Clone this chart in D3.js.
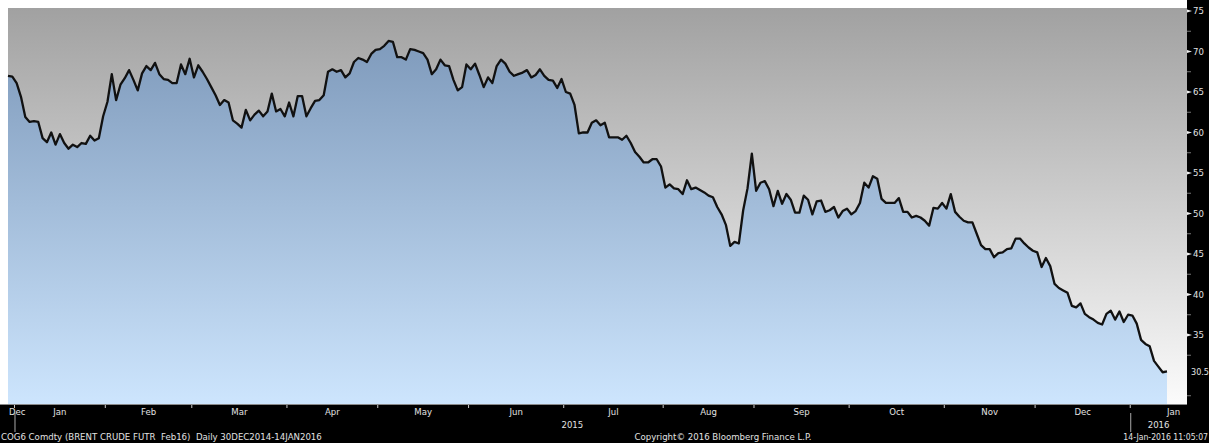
<!DOCTYPE html>
<html>
  <head>
  <title>Brent Feb16</title>
  </head>
  <body>
  <style>
    body, html {
      margin: 0;
      padding: 0;
      background: #fff;
    }
    #svg text {
      font-family: "DejaVu Sans Condensed", "DejaVu Sans", sans-serif;
      fill: #e2e2e2;
    }
    #svg text.footer {
      font-family: "DejaVu Sans", sans-serif;
      white-space: pre;
    }
  </style>

  <svg id="svg" width="1209" height="443"></svg>

  <script src="https://cdn.jsdelivr.net/npm/d3@7"></script>
  <script>
    // COG6 Comdty daily closes, 30 Dec 2014 .. 14 Jan 2016
    const startDate = '2014-12-30'
    const endDate = '2016-01-14'
    const holidays = ['2015-01-01', '2015-04-03', '2015-12-25', '2016-01-01']
    const prices = [
      67.0, 66.9, 66.1, 64.4, 61.9, 61.3, 61.4, 61.3, 59.3, 58.8,
      60.0, 58.5, 59.8, 58.7, 58.0, 58.5, 58.2, 58.7, 58.6, 59.6,
      59.0, 59.3, 62.0, 63.8, 67.2, 64.0, 65.9, 66.7, 67.7, 66.5,
      65.2, 67.3, 68.2, 67.7, 68.6, 67.2, 66.6, 66.5, 66.1, 66.1,
      68.4, 67.2, 69.1, 66.8, 68.3, 67.5, 66.6, 65.6, 64.6, 63.4,
      64.0, 63.7, 61.5, 61.1, 60.6, 62.8, 61.5, 62.2, 62.7, 62.0,
      62.6, 64.8, 62.6, 62.9, 62.0, 63.7, 62.0, 64.5, 64.5, 62.0,
      63.0, 63.9, 64.0, 64.6, 67.5, 67.8, 67.5, 67.7, 66.8, 67.3,
      68.7, 69.2, 69.0, 68.7, 69.7, 70.2, 70.3, 70.7, 71.3, 71.2,
      69.3, 69.3, 69.0, 70.3, 70.2, 70.0, 69.8, 69.0, 67.2, 67.8,
      69.0, 68.3, 68.2, 66.5, 65.2, 65.6, 68.4, 67.8, 68.5, 67.1,
      65.6, 66.8, 66.1, 68.2, 69.0, 68.5, 67.5, 67.0, 67.2, 67.4,
      67.7, 66.8, 67.1, 67.8, 67.0, 66.5, 66.4, 65.5, 66.6, 65.0,
      64.8, 63.4, 59.9, 60.0, 60.0, 61.2, 61.5, 60.9, 61.2, 59.4,
      59.4, 59.4, 59.1, 59.6, 58.7, 57.6, 57.0, 56.3, 56.3, 56.7,
      56.7, 55.8, 53.2, 53.6, 53.1, 53.0, 52.4, 54.1, 53.0, 53.2,
      52.9, 52.6, 52.2, 52.0, 50.8, 49.9, 48.6, 46.0, 46.5, 46.3,
      50.4, 53.1, 57.4, 52.8, 53.8, 54.0, 53.0, 50.9, 52.8, 51.2,
      52.4, 51.7, 50.1, 50.1, 52.2, 51.7, 49.9, 51.5, 51.6, 50.2,
      50.4, 50.8, 49.5, 50.3, 50.6, 49.9, 50.3, 51.3, 53.8, 53.2,
      54.6, 54.3, 51.8, 51.3, 51.3, 51.3, 51.9, 50.2, 50.2, 49.5,
      49.7, 49.5, 49.1, 48.5, 50.7, 50.6, 51.3, 50.6, 52.4, 50.2,
      49.6, 49.1, 48.9, 48.9, 47.5, 46.1, 45.6, 45.6, 44.6, 45.1,
      45.2, 45.6, 45.7, 46.9, 46.9, 46.3, 45.8, 45.4, 45.2, 43.4,
      44.5, 43.5, 41.3, 40.8, 40.5, 40.2, 38.6, 38.4, 38.9, 37.6,
      37.2, 36.9, 36.5, 36.3, 37.6, 38.0, 36.9, 37.9, 36.6, 37.5,
      37.4, 36.4, 34.4, 33.9, 33.6, 31.8, 31.1, 30.4, 30.5
    ]
    const yTicks = [35, 40, 45, 50, 55, 60, 65, 70, 75]
    const yMinorTicks = [27.5, 32.5, 37.5, 42.5, 47.5, 52.5, 57.5, 62.5, 67.5, 72.5]
    const footerLeft = 'COG6 Comdty (BRENT CRUDE FUTR  Feb16)  Daily 30DEC2014-14JAN2016'
    const footerMid = 'Copyright\u00a9 2016 Bloomberg Finance L.P.'
    const footerRight = '14-Jan-2016 11:05:07'

    const W = 1209, H = 443
    const plot = { left: 8, top: 8, right: 1187, bottom: 404 }
    const fmtDay = d3.utcFormat('%Y-%m-%d')

    function tradingDays(from, to) {
      return d3.utcDays(new Date(from), d3.utcDay.offset(new Date(to), 1))
        .filter(d => d.getUTCDay() !== 0 && d.getUTCDay() !== 6)
        .filter(d => !holidays.includes(fmtDay(d)))
    }

    // whole months around the data, so month labels can be centred like Bloomberg does
    const allDays = tradingDays('2014-12-01', '2016-01-31')
    const offset = allDays.findIndex(d => fmtDay(d) === startDate)

    const svg = d3.select('#svg')

    const xScale = d3.scaleLinear()
      .domain([0, prices.length - 1])
      .range([8, 1167])
    const yScale = d3.scaleLinear()
      .domain([26.48, 75.37])
      .range([plot.bottom, plot.top])

    const defs = svg.append('defs')
    const bgGrad = defs.append('linearGradient')
      .attr('id', 'bg')
      .attr('gradientUnits', 'userSpaceOnUse')
      .attr('x1', 0).attr('x2', 0)
      .attr('y1', plot.top).attr('y2', plot.bottom)
    bgGrad.append('stop').attr('offset', 0).attr('stop-color', '#a1a1a1')
    bgGrad.append('stop').attr('offset', 1).attr('stop-color', '#fbfbfb')

    const areaGrad = defs.append('linearGradient')
      .attr('id', 'areaFill')
      .attr('gradientUnits', 'userSpaceOnUse')
      .attr('x1', 0).attr('x2', 0)
      .attr('y1', plot.top).attr('y2', plot.bottom)
    areaGrad.append('stop').attr('offset', 0).attr('stop-color', '#7894b6')
    areaGrad.append('stop').attr('offset', 1).attr('stop-color', '#cde5fd')

    // plot background
    svg.append('rect')
      .attr('x', plot.left).attr('y', plot.top)
      .attr('width', plot.right - plot.left)
      .attr('height', plot.bottom - plot.top)
      .attr('fill', 'url(#bg)')

    const areagen = d3.area()
      .x((d, i) => xScale(i))
      .y0(plot.bottom)
      .y1(d => yScale(d))
    const linegen = d3.line()
      .x((d, i) => xScale(i))
      .y(d => yScale(d))

    svg.append('path')
      .attr('d', areagen(prices))
      .attr('fill', 'url(#areaFill)')

    svg.append('path')
      .attr('d', linegen(prices))
      .attr('fill', 'none')
      .attr('stroke', '#111')
      .attr('stroke-width', 2.3)
      .attr('stroke-linejoin', 'round')

    // black axis panels
    svg.append('rect')
      .attr('x', plot.right).attr('y', 0)
      .attr('width', W - plot.right).attr('height', plot.bottom)
      .attr('fill', '#000')
    svg.append('rect')
      .attr('x', 0).attr('y', plot.bottom)
      .attr('width', W).attr('height', H - plot.bottom)
      .attr('fill', '#000')
    svg.append('line')
      .attr('x1', 0).attr('x2', plot.right)
      .attr('y1', plot.bottom + 0.5).attr('y2', plot.bottom + 0.5)
      .attr('stroke', '#8a8a8a')

    // right axis
    const yAxis = svg.append('g')
    yAxis.selectAll('.minor')
      .data(yMinorTicks)
      .join('line')
      .attr('x1', plot.right).attr('x2', plot.right + 4)
      .attr('y1', d => yScale(d)).attr('y2', d => yScale(d))
      .attr('stroke', '#777')
    yAxis.selectAll('.major')
      .data(yTicks)
      .join('path')
      .attr('d', d => `M${plot.right},${yScale(d) - 1.5}L${plot.right + 5},${yScale(d)}L${plot.right},${yScale(d) + 1.5}Z`)
      .attr('fill', '#eee')
    yAxis.selectAll('text')
      .data(yTicks)
      .join('text')
      .attr('x', plot.right + 6)
      .attr('y', d => yScale(d))
      .attr('dy', '0.35em')
      .attr('font-size', 9.5)
      .text(d => d)

    // last value label
    const last = prices[prices.length - 1]
    yAxis.append('text')
      .attr('x', plot.right + 4)
      .attr('y', yScale(last))
      .attr('dy', '0.35em')
      .attr('font-size', 9)
      .text(d3.format('.1f')(last))

    // months
    const months = d3.groups(allDays.map((d, i) => ({ d, i: i - offset })), e => d3.utcFormat('%Y-%m')(e.d))
    const lastIdx = prices.length - 1
    const xAxis = svg.append('g')
    months.forEach(([key, days]) => {
      const first = days[0].i
      const lastDay = days[days.length - 1].i
      const mid = (xScale(first - 0.5) + xScale(lastDay + 0.5)) / 2
      if (first > 0 && first <= lastIdx) {
        xAxis.append('line')
          .attr('x1', xScale(first - 0.5)).attr('x2', xScale(first - 0.5))
          .attr('y1', plot.bottom + 1).attr('y2', plot.bottom + 4)
          .attr('stroke', '#ccc')
      }
      const label = d3.utcFormat('%b')(days[0].d)
      const t = xAxis.append('text')
        .attr('y', plot.bottom + 11)
        .attr('font-size', 9.5)
        .text(label)
      if (mid < plot.left + 10) {
        t.attr('x', plot.left + 1).attr('text-anchor', 'start')
      } else {
        t.attr('x', mid).attr('text-anchor', 'middle')
      }
    })

    // years
    const years = d3.groups(d3.range(prices.length).map(i => ({ d: allDays[i + offset], i })), e => e.d.getUTCFullYear())
    years.forEach(([yr, days]) => {
      const first = days[0].i
      const x0 = xScale(first - 0.5)
      if (first > 0) {
        xAxis.append('line')
          .attr('x1', x0 + 0.5).attr('x2', x0 + 0.5)
          .attr('y1', plot.bottom + 9).attr('y2', plot.bottom + 28)
          .attr('stroke', '#aaa')
      }
      if (days.length > 5) {
        const x1 = yr === 2016 ? plot.right : xScale(days[days.length - 1].i + 0.5)
        xAxis.append('text')
          .attr('x', (x0 + x1) / 2)
          .attr('y', plot.bottom + 24)
          .attr('text-anchor', 'middle')
          .attr('font-size', 9.5)
          .text(yr)
      }
    })

    // footer
    svg.append('text')
      .attr('class', 'footer')
      .attr('x', 1).attr('y', 440)
      .attr('font-size', 8.6)
      .text(footerLeft)
    svg.append('text')
      .attr('class', 'footer')
      .attr('x', 723).attr('y', 440)
      .attr('text-anchor', 'middle')
      .attr('font-size', 8.6)
      .text(footerMid)
    svg.append('text')
      .attr('x', W - 1).attr('y', 440)
      .attr('text-anchor', 'end')
      .attr('font-size', 8.6)
      .text(footerRight)
  </script>
  </body>
</html>
